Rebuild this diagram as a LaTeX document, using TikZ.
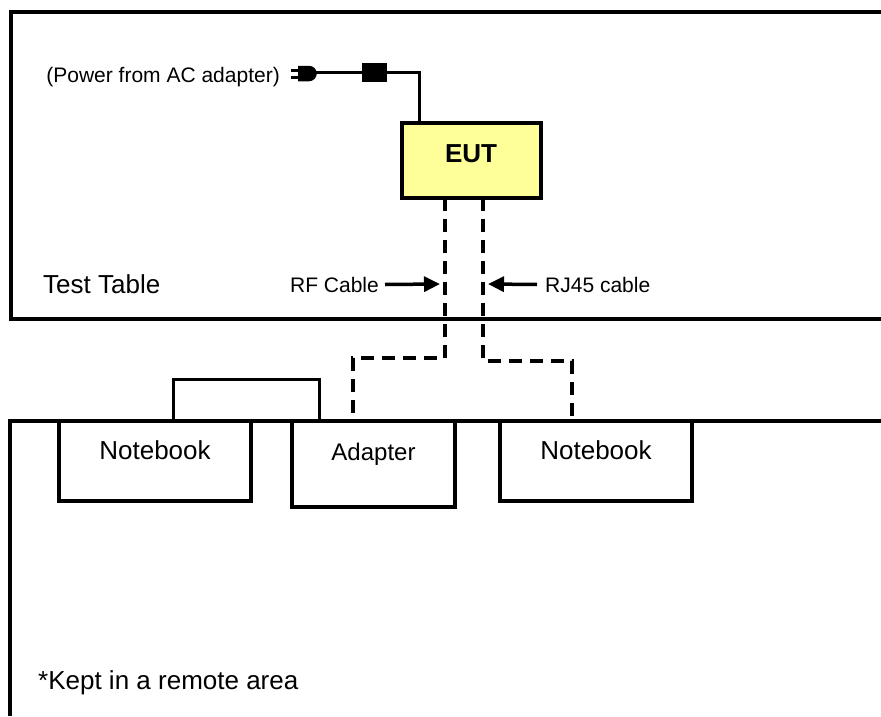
\documentclass[tikz,border=0pt]{standalone}
\usepackage{fontspec}
\setmainfont{Liberation Sans}
\usetikzlibrary{positioning,arrows.meta}
\definecolor{eutyellow}{RGB}{255,255,153}

\begin{document}
\begin{tikzpicture}[
		x=1pt, y=-1pt,
		table/.style={draw, line width=4pt},
		box/.style={rectangle, draw, line width=3.5pt, outer sep=0pt, inner sep=0pt},
		tag/.style={inner sep=0pt, font=\fontsize{26}{30}\selectfont},
		small/.style={inner sep=0pt, font=\fontsize{21}{25}\selectfont},
		wire/.style={line width=3pt},
		cable/.style={line width=3.5pt, dash pattern=on 13pt off 8pt},
		pointer/.style={line width=3.5pt, -{Triangle[length=16pt, width=15pt]}},
		]
		\useasboundingbox (0,0) rectangle (881,716);

		%Tables
		\draw[table] (881,12) -- (11,12) -- (11,319) -- (881,319);
		\draw[table] (881,421) -- (10,421) -- (10,716);
		\node[tag, anchor=base west]	(test_table)	at (43,293)	{Test Table};
		\node[tag, anchor=base west]	(remote)		at (38,689)	{*Kept in a remote area};

		%Main Nodes
		\node[box, fill=eutyellow, minimum width=139pt, minimum height=75pt]	(eut)	at (471.5,160.5)	{};
		\node[tag, font=\fontsize{26}{30}\selectfont\bfseries, anchor=base]	(eut_txt)	at (471,162)	{EUT};

		\node[box, minimum width=192pt, minimum height=80pt, anchor=north west]	(nb_left)	at (59,421)		{};
		\node[box, minimum width=163pt, minimum height=86pt, anchor=north west]	(adapter)	at (292,421)	{};
		\node[box, minimum width=192pt, minimum height=80pt, anchor=north west]	(nb_right)	at (500,421)	{};
		\node[tag, anchor=base]	(nb_left_txt)	at ([yshift=-38pt]nb_left.north)	{Notebook};
		\node[tag, font=\fontsize{24}{28}\selectfont, anchor=base]	(adapter_txt)	at ([yshift=-39pt]adapter.north)	{Adapter};
		\node[tag, anchor=base]	(nb_right_txt)	at ([yshift=-38pt]nb_right.north)	{Notebook};

		%Power
		\node[small, anchor=base east]	(power_txt)	at (280,82)	{(Power from AC adapter)};
		\coordinate (plug) at (298,73.5);
		\coordinate (plug_tip) at (316,72);
		\draw[wire] (291,70) -- (298,70) (291,77.5) -- (298,77.5);
		\fill (plug) ++(0,-7.75) -- ++(11,0) arc[start angle=90, end angle=-90, radius=7.75pt] -- ++(-11,0) -- cycle;
		\node[box, fill=black, minimum width=22pt, minimum height=16pt]	(ferrite)	at (374.5,72.5)	{};
		\draw[wire] (plug_tip) -- (ferrite.west |- plug_tip);
		\draw[wire] (ferrite.east |- plug_tip) -| ([xshift=17pt]eut.north west);

		%Cables
		\coordinate (rf_out)	at ([xshift=43pt]eut.south west);
		\coordinate (rj_out)	at ([xshift=81pt]eut.south west);
		\coordinate (rf_in)		at ([xshift=61pt]adapter.north west);
		\coordinate (rj_in)		at ([xshift=72pt]nb_right.north west);
		\draw[cable] (rf_out) |- ([yshift=63pt]rf_in) -- (rf_in);
		\draw[cable] (rj_out) |- ([yshift=60pt]rj_in) -- (rj_in);

		\coordinate (usb_a)	at ([xshift=114pt]nb_left.north west);
		\coordinate (usb_b)	at ([xshift=27pt]adapter.north west);
		\draw[wire] (usb_a) |- ([yshift=42pt]usb_b) -- (usb_b);

		%Pointers
		\node[small, anchor=base east]	(rf_txt)	at (379,292)	{RF Cable};
		\coordinate (rf_tip) at (440,284);
		\draw[pointer] ([xshift=6pt]rf_txt.east) -- (rf_tip);
		\node[small, anchor=base west]	(rj_txt)	at (545,292)	{RJ45 cable};
		\coordinate (rj_tip) at (488,284);
		\draw[pointer] ([xshift=-8pt]rj_txt.west) -- (rj_tip);
	\end{tikzpicture}
\end{document}
